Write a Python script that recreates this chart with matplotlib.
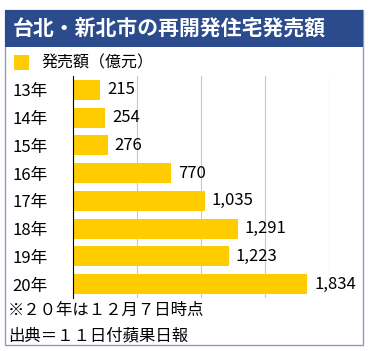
import matplotlib
matplotlib.use("Agg")
import matplotlib.pyplot as plt
from matplotlib.patches import Rectangle

plt.rcParams['font.family'] = ['Noto Sans CJK JP', 'DejaVu Sans']

years = ["13年", "14年", "15年", "16年", "17年", "18年", "19年", "20年"]
sales = [215, 254, 276, 770, 1035, 1291, 1223, 1834]
title = "台北・新北市の再開発住宅発売額"
legend_label = "発売額（億元）"
notes = ["※２０年は１２月７日時点", "出典＝１１日付蘋果日報"]

W, H = 369, 351
fig = plt.figure(figsize=(W / 100, H / 100), dpi=100)

def fx(px):
    return px / W

def fy(py):
    return 1 - py / H

# outer frame
fig.patches.append(Rectangle((fx(5), fy(345)), fx(358), (335) / H, transform=fig.transFigure,
                             facecolor='white', edgecolor='#8e9cb8', linewidth=1, zorder=-2))
# title band
fig.patches.append(Rectangle((fx(5), fy(47)), fx(358), 37 / H, transform=fig.transFigure,
                             facecolor='#2b4b8d', edgecolor='none', zorder=-1))
fig.text(fx(13), fy(29), title, color='white', fontsize=15, fontweight='bold',
         va='center', ha='left')

# legend
fig.patches.append(Rectangle((fx(14), fy(70)), fx(15), 15 / H, transform=fig.transFigure,
                             facecolor='#ffcc00', edgecolor='none', zorder=-1))
fig.text(fx(42), fy(63), legend_label, fontsize=11.5, va='center', ha='left')

ax = fig.add_axes([fx(72.5), fy(298), (328.5 - 72.5) / W, (298 - 76) / H])
ax.set_facecolor('none')
pos = list(range(len(years)))
ax.barh(pos, sales, height=0.72, color='#ffcc00', zorder=2)
ax.set_xlim(0, 2000)
ax.set_ylim(len(years) - 0.5, -0.5)
ax.set_xticks([500, 1000, 1500, 2000])
ax.set_xticklabels([])
ax.tick_params(axis='x', length=0)
ax.grid(axis='x', color='#c8c8c8', linewidth=0.8, zorder=0)
for s in ['top', 'right', 'bottom']:
    ax.spines[s].set_visible(False)
ax.spines['left'].set_color('black')
ax.spines['left'].set_linewidth(0.8)
ax.set_yticks(pos)
ax.set_yticklabels(years, fontsize=12, ha='left')
ax.tick_params(axis='y', length=0, pad=43.5)

for p, v in zip(pos, sales):
    ax.annotate(f"{v:,}", (v, p), xytext=(5, 0), textcoords='offset points',
                va='center', ha='left', fontsize=12)

fig.text(fx(8), fy(310), notes[0], fontsize=11.8, va='center', ha='left')
fig.text(fx(8), fy(336), notes[1], fontsize=11.8, va='center', ha='left')

fig.savefig("out.png", dpi=100)
